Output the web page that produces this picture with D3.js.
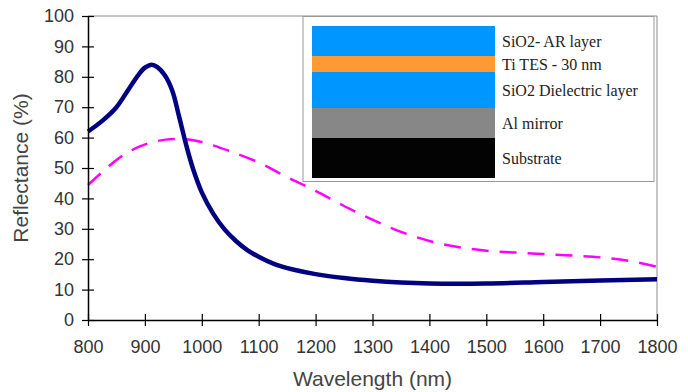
<!DOCTYPE html>
<html>
<head>
<meta charset="utf-8">
<script src="https://cdn.jsdelivr.net/npm/d3@7"></script>
<style>
  body { margin: 0; background: #fff; }
  .tick text { font-family: Arial, "Liberation Sans", sans-serif; font-size: 18px; fill: #333; }
  .title { font-family: Arial, "Liberation Sans", sans-serif; font-size: 21px; fill: #444; }
  .layer-label { font-family: "Times New Roman", "Liberation Serif", serif; font-size: 16px; fill: #222; }
</style>
</head>
<body>
<svg id="chart" width="688" height="392"></svg>
<script>
// measured curve, solid line
var solidWl = [800, 825, 850, 870, 888, 900, 912, 922, 935, 948, 960, 972, 985, 1000, 1020, 1040, 1060, 1080, 1100, 1130, 1160, 1200, 1250, 1300, 1350, 1400, 1500, 1600, 1700, 1800];
var solidR  = [62, 65.5, 70, 75.5, 80.5, 83, 84, 83.2, 80.5, 75.5, 67, 58, 49.5, 42, 35, 29.8, 26, 23, 20.8, 18.2, 16.6, 15.1, 13.8, 12.9, 12.3, 12, 12, 12.5, 13, 13.4];

// dashed curve
var dashWl = [800, 830, 860, 890, 920, 950, 980, 1010, 1050, 1100, 1150, 1200, 1250, 1300, 1350, 1400, 1450, 1500, 1550, 1600, 1650, 1700, 1750, 1800];
var dashR  = [44.4, 49.5, 54, 57, 58.8, 59.5, 59.3, 58, 55.5, 51.8, 47, 42.5, 37.5, 33, 29, 26, 24, 22.8, 22.2, 21.7, 21.2, 20.6, 19.5, 17.5];

var xTicks = [800, 900, 1000, 1100, 1200, 1300, 1400, 1500, 1600, 1700, 1800];
var yTicks = [0, 10, 20, 30, 40, 50, 60, 70, 80, 90, 100];

// stack inset
var layerNames = ["SiO2- AR layer", "Ti TES - 30 nm", "SiO2 Dielectric layer", "Al mirror", "Substrate"];
var layerThick = [30, 16, 36, 30, 40];
var layerColors = ["#0096ff", "#ff9933", "#0096ff", "#878787", "#030303"];

var svg = d3.select("#chart");
var mLeft = 88, mRight = 657, mTop = 16, mBottom = 320;

var x = d3.scaleLinear().domain([800, 1800]).range([mLeft, mRight]);
var y = d3.scaleLinear().domain([0, 100]).range([mBottom, mTop]);

// plot frame (top/right gray)
svg.append("path")
    .attr("d", "M" + mLeft + "," + mTop + "H" + mRight + "V" + mBottom)
    .attr("fill", "none")
    .attr("stroke", "#8c8c8c")
    .attr("stroke-width", 1);

var line = d3.line()
    .curve(d3.curveCatmullRom.alpha(0.5))
    .x(function(d) { return x(d[0]); })
    .y(function(d) { return y(d[1]); });

svg.append("path")
    .datum(dashWl.map(function(w, i) { return [w, dashR[i]]; }))
    .attr("d", line)
    .attr("fill", "none")
    .attr("stroke", "#ff00ff")
    .attr("stroke-width", 2.5)
    .attr("stroke-dasharray", "17,11");

svg.append("path")
    .datum(solidWl.map(function(w, i) { return [w, solidR[i]]; }))
    .attr("d", line)
    .attr("fill", "none")
    .attr("stroke", "#000080")
    .attr("stroke-width", 4.5)
    .attr("stroke-linejoin", "round");

// inset box
var box = svg.append("g");
box.append("rect")
    .attr("x", 303).attr("y", 16.5)
    .attr("width", 351).attr("height", 165)
    .attr("fill", "#fff")
    .attr("stroke", "#999");

var total = d3.sum(layerThick);
var ly = d3.scaleLinear().domain([0, total]).range([26, 178]);
var cum = d3.cumsum(layerThick);
var layers = layerNames.map(function(n, i) {
  return { name: n, y0: cum[i] - layerThick[i], y1: cum[i], color: layerColors[i] };
});

box.selectAll("rect.layer")
    .data(layers)
  .enter().append("rect")
    .attr("class", "layer")
    .attr("x", 312)
    .attr("width", 183)
    .attr("y", function(d) { return ly(d.y0); })
    .attr("height", function(d) { return ly(d.y1) - ly(d.y0); })
    .attr("fill", function(d) { return d.color; });

box.selectAll("text")
    .data(layers)
  .enter().append("text")
    .attr("class", "layer-label")
    .attr("x", 502)
    .attr("y", function(d) { return (ly(d.y0) + ly(d.y1)) / 2; })
    .attr("dy", "0.35em")
    .text(function(d) { return d.name; });

// axes
var xAxis = svg.append("g")
    .attr("transform", "translate(0," + mBottom + ")")
    .call(d3.axisBottom(x).tickValues(xTicks).tickFormat(d3.format("d"))
      .tickSize(6).tickPadding(14).tickSizeOuter(0));
xAxis.selectAll(".tick line").attr("y1", -6);

var yAxis = svg.append("g")
    .attr("transform", "translate(" + mLeft + ",0)")
    .call(d3.axisLeft(y).tickValues(yTicks).tickFormat(d3.format("d"))
      .tickSize(6).tickPadding(8).tickSizeOuter(0));
yAxis.selectAll(".tick line").attr("x1", 6);

svg.selectAll(".domain").attr("stroke", "#000").attr("stroke-width", 1.5);
svg.selectAll(".tick line").attr("stroke", "#000").attr("stroke-width", 1.2);
xAxis.selectAll(".tick text").attr("dy", "0.71em");

svg.append("text")
    .attr("class", "title")
    .attr("x", (mLeft + mRight) / 2)
    .attr("y", 386)
    .attr("text-anchor", "middle")
    .text("Wavelength (nm)");

svg.append("text")
    .attr("class", "title")
    .attr("transform", "translate(28," + (mTop + mBottom) / 2 + ") rotate(-90)")
    .attr("text-anchor", "middle")
    .text("Reflectance (%)");
</script>
</body>
</html>
